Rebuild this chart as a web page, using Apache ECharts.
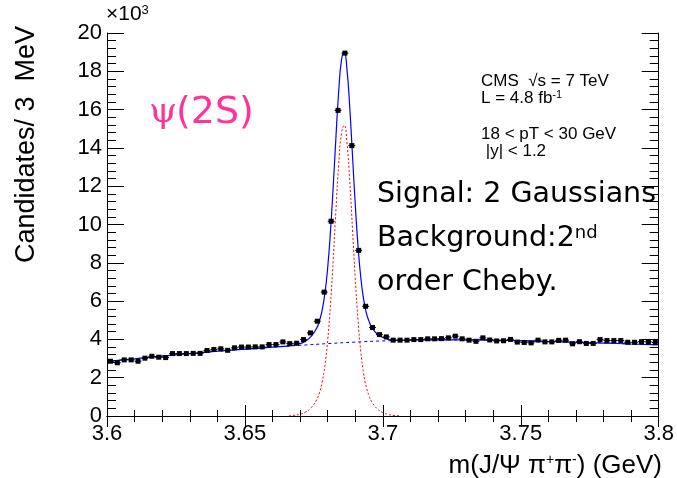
<!DOCTYPE html>
<html>
<head>
<meta charset="utf-8">
<script src="https://cdn.jsdelivr.net/npm/echarts@6/dist/echarts.min.js"></script>
<style>
  html, body { margin: 0; padding: 0; background: #fff; }
  #chart { width: 677px; height: 478px; }
</style>
</head>
<body>
<div id="chart"></div>
<script>
// psi(2S) -> J/psi pi+ pi- invariant mass spectrum, counts in units of 10^3

const binStart = 3.6;
const binWidth = 0.0025;

// candidates per bin (x10^3), 80 bins from 3.6 to 3.8 GeV
const counts = [
  2.86, 2.78, 2.93, 2.93, 2.86, 3.02, 3.12, 3.07, 3.05, 3.26,
  3.26, 3.26, 3.27, 3.27, 3.42, 3.47, 3.51, 3.43, 3.56, 3.60,
  3.60, 3.61, 3.61, 3.73, 3.73, 3.87, 3.78, 3.80, 3.99, 4.34,
  4.95, 6.47, 10.17, 15.96, 18.95, 14.12, 8.65, 5.73, 4.62, 4.25,
  4.13, 3.96, 3.96, 3.96, 3.99, 3.99, 4.03, 4.03, 4.04, 4.08,
  4.17, 4.03, 3.96, 3.90, 4.08, 3.97, 3.92, 3.93, 4.00, 3.86,
  3.84, 3.82, 3.96, 3.87, 3.87, 3.95, 3.96, 3.77, 3.88, 3.79,
  3.79, 3.99, 3.94, 3.94, 3.94, 3.85, 3.85, 3.88, 3.87, 3.84
];

// background fit (2nd order Chebyshev)
const bkgX = [3.60, 3.61, 3.62, 3.63, 3.64, 3.65, 3.66, 3.67, 3.68, 3.69, 3.70,
              3.71, 3.72, 3.73, 3.74, 3.75, 3.76, 3.77, 3.78, 3.79, 3.80];
const bkgY = [2.85, 2.99, 3.13, 3.26, 3.38, 3.49, 3.59, 3.69, 3.78, 3.86, 3.92,
              3.96, 3.98, 3.98, 3.96, 3.93, 3.89, 3.85, 3.81, 3.76, 3.71];

// signal fit (sum of two Gaussians)
const sigX = [3.666, 3.668, 3.670, 3.672, 3.674, 3.676, 3.677, 3.678, 3.679, 3.680,
              3.681, 3.682, 3.683, 3.684, 3.685, 3.686, 3.687, 3.688, 3.689, 3.690,
              3.691, 3.692, 3.693, 3.694, 3.695, 3.696, 3.698, 3.700, 3.702, 3.704, 3.706];
const sigY = [0.01, 0.04, 0.09, 0.21, 0.43, 0.85, 1.21, 1.77, 2.64, 3.96,
              5.82, 8.17, 10.78, 13.16, 14.76, 15.18, 14.25, 12.27, 9.74, 7.18,
              5.00, 3.36, 2.24, 1.51, 1.05, 0.74, 0.37, 0.18, 0.08, 0.03, 0.01];

// total fit (signal + background)
const totX = [3.60, 3.61, 3.62, 3.63, 3.64, 3.65, 3.66,
              3.666, 3.668, 3.670, 3.672, 3.674, 3.676, 3.677, 3.678, 3.679, 3.680,
              3.681, 3.682, 3.683, 3.684, 3.685, 3.686, 3.687, 3.688, 3.689, 3.690,
              3.691, 3.692, 3.693, 3.694, 3.695, 3.696, 3.698, 3.700, 3.702, 3.704, 3.706,
              3.71, 3.72, 3.73, 3.74, 3.75, 3.76, 3.77, 3.78, 3.79, 3.80];
const totY = [2.85, 2.99, 3.13, 3.26, 3.38, 3.49, 3.60,
              3.66, 3.71, 3.78, 3.92, 4.16, 4.59, 4.96, 5.53, 6.41, 7.74,
              9.61, 11.97, 14.58, 16.97, 18.58, 19.01, 18.09, 16.11, 13.59, 11.04,
              8.87, 7.23, 6.12, 5.39, 4.94, 4.63, 4.27, 4.10, 4.01, 3.96, 3.95,
              3.96, 3.98, 3.98, 3.96, 3.93, 3.89, 3.85, 3.81, 3.76, 3.71];

const xTicks = { min: 3.6, max: 3.8, step: 0.05 };
const yTicks = { min: 0, max: 20, step: 2 };

const zip = (xs, ys) => xs.map((x, i) => [x, ys[i]]);

const AX = '"Liberation Sans", Arial, sans-serif';
const TX = '"DejaVu Sans", Verdana, sans-serif';

function axisCommon(showLabel, tickLen, minorLen) {
  return {
    type: 'value',
    axisLine: { show: true, lineStyle: { color: '#000', width: 1 } },
    axisTick: { show: true, inside: true, length: tickLen, lineStyle: { color: '#000', width: 1 } },
    minorTick: { show: true, splitNumber: 5, length: minorLen, lineStyle: { color: '#000', width: 1 } },
    splitLine: { show: false },
    minorSplitLine: { show: false },
    axisLabel: { show: showLabel, color: '#000', fontFamily: AX, fontSize: 22 }
  };
}

const xBottom = Object.assign(axisCommon(true, 11, 6), {
  position: 'bottom', min: xTicks.min, max: xTicks.max, interval: xTicks.step
});
xBottom.axisLabel.margin = 7;
xBottom.axisLabel.formatter = v => String(+v.toFixed(2));
const xTop = Object.assign(axisCommon(false, 11, 6), {
  position: 'top', min: xTicks.min, max: xTicks.max, interval: xTicks.step
});
const yLeft = Object.assign(axisCommon(true, 17, 9), {
  position: 'left', min: yTicks.min, max: yTicks.max, interval: yTicks.step
});
yLeft.axisLabel.margin = 5;
const yRight = Object.assign(axisCommon(false, 17, 9), {
  position: 'right', min: yTicks.min, max: yTicks.max, interval: yTicks.step
});

const chart = echarts.init(document.getElementById('chart'), null, { renderer: 'canvas' });

chart.setOption({
  animation: false,
  backgroundColor: '#fff',
  grid: { left: 107, right: 15, top: 33, bottom: 62, containLabel: false },
  xAxis: [xBottom, xTop],
  yAxis: [yLeft, yRight],
  series: [
    {
      name: 'background', type: 'line', data: zip(bkgX, bkgY),
      smooth: true, showSymbol: false, silent: true,
      lineStyle: { color: '#0000ff', width: 1, type: [3, 3] }, z: 2
    },
    {
      name: 'signal', type: 'line', data: zip(sigX, sigY),
      smooth: true, showSymbol: false, silent: true,
      lineStyle: { color: '#ff0000', width: 1, type: [2, 2] }, z: 2
    },
    {
      name: 'total', type: 'line', data: zip(totX, totY),
      smooth: true, showSymbol: false, silent: true,
      lineStyle: { color: '#0000ff', width: 1.2 }, z: 3
    },
    {
      name: 'data', type: 'custom', z: 10,
      data: counts.map((v, i) => [binStart + binWidth * (i + 0.5), v]),
      renderItem(params, api) {
        const x = api.value(0), y = api.value(1);
        const c = api.coord([x, y]);
        const l = api.coord([x - binWidth / 2, y]);
        const r = api.coord([x + binWidth / 2, y]);
        return {
          type: 'group',
          children: [
            { type: 'line', shape: { x1: l[0], y1: c[1], x2: r[0], y2: c[1] },
              style: { stroke: '#000', lineWidth: 1 } },
            { type: 'rect', shape: { x: c[0] - 2.5, y: c[1] - 2.5, width: 5, height: 5 },
              style: { fill: '#000' } }
          ]
        };
      }
    }
  ],
  graphic: [
    // exponent of the y axis
    { type: 'text', x: 106, y: 4, style: {
        text: '×10{s|3}', font: '21px ' + AX, fill: '#000',
        rich: { s: { fontSize: 13, fontFamily: AX, lineHeight: 12, verticalAlign: 'top' } } } },
    // y axis title
    { type: 'text', x: 27, y: 263, rotation: Math.PI / 2, style: {
        text: 'Candidates/ 3  MeV', font: '27px ' + AX, fill: '#000',
        align: 'left', verticalAlign: 'middle' } },
    // x axis title
    { type: 'text', x: 662, y: 466, style: {
        text: 'm(J/Ψ π{s|+}π{s|-}) (GeV)', font: '26px ' + AX, fill: '#000',
        align: 'right', verticalAlign: 'middle',
        rich: { s: { fontSize: 14, fontFamily: AX, lineHeight: 14, verticalAlign: 'top' } } } },
    // resonance label
    { type: 'text', x: 149, y: 113, style: { text: 'ψ', font: '36px "DejaVu Serif", serif', fill: '#ff3399', verticalAlign: 'middle' } },
    { type: 'text', x: 176, y: 113, style: { text: '(2S)', font: '38px ' + TX, fill: '#ff3399', verticalAlign: 'middle' } },
    // experiment info
    { type: 'text', x: 481, y: 81, style: { text: 'CMS  √s = 7 TeV', font: '17px ' + AX, fill: '#000', verticalAlign: 'middle' } },
    { type: 'text', x: 481, y: 98, style: {
        text: 'L = 4.8 fb{s|-1}', font: '17px ' + AX, fill: '#000', verticalAlign: 'middle',
        rich: { s: { fontSize: 11, fontFamily: AX, lineHeight: 10, verticalAlign: 'top' } } } },
    { type: 'text', x: 481, y: 134, style: { text: '18 < pT < 30 GeV', font: '17px ' + AX, fill: '#000', verticalAlign: 'middle' } },
    { type: 'text', x: 481, y: 151, style: { text: ' |y| < 1.2', font: '17px ' + AX, fill: '#000', verticalAlign: 'middle' } },
    // fit description
    { type: 'text', x: 377, y: 195, style: { text: 'Signal: 2 Gaussians', font: '28.5px ' + TX, fill: '#000', verticalAlign: 'middle' } },
    { type: 'text', x: 377, y: 239, style: {
        text: 'Background:2{s|nd}', font: '28.5px ' + TX, fill: '#000', verticalAlign: 'middle',
        rich: { s: { fontSize: 18, fontFamily: TX, lineHeight: 16, verticalAlign: 'top' } } } },
    { type: 'text', x: 377, y: 283, style: { text: 'order Cheby.', font: '28.5px ' + TX, fill: '#000', verticalAlign: 'middle' } }
  ]
});
</script>
</body>
</html>
